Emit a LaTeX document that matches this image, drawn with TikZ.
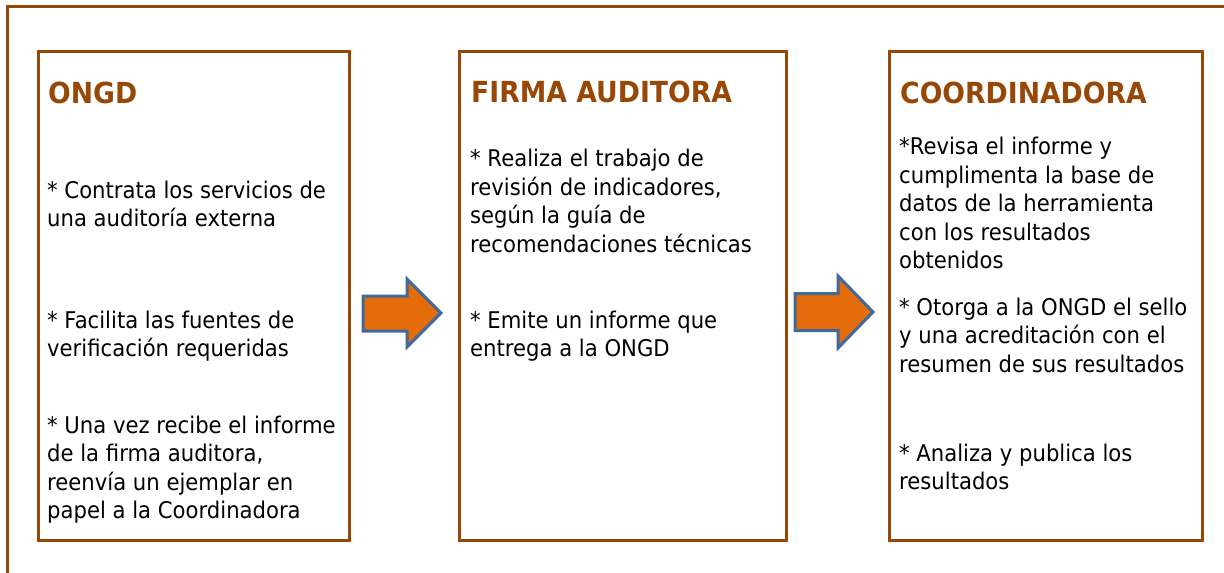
\documentclass[tikz,border=0pt]{standalone}
\usepackage{fontspec}
\setmainfont[FakeStretch=0.92]{DejaVu Sans}
\usetikzlibrary{positioning}

\definecolor{framebrown}{HTML}{984806}
\definecolor{arroworange}{HTML}{E46C0A}
\definecolor{arrowblue}{HTML}{41699B}

\tikzset{
  panel/.style={draw=framebrown, line width=3pt},
  heading/.style={font=\bfseries\fontsize{29}{31}\selectfont, text=framebrown, inner sep=0pt, anchor=base west},
  entry/.style={font=\fontsize{23}{28.6}\selectfont, align=left, inner sep=0pt, anchor=base west},
  blockarrow/.style={fill=arroworange, draw=arrowblue, line width=3pt, line join=miter}
}

\begin{document}
\begin{tikzpicture}[x=1pt,y=-1pt]
\useasboundingbox (0,0) rectangle (1224,573);
% Draw outer frame
\draw[framebrown, line width=3.3pt] (7.7,600) -- (7.7,6.7) -- (1240,6.7);
% Draw the three boxes
\draw[panel] (38.5,51.5) rectangle (349.5,540.5);
\draw[panel] (459.5,51.7) rectangle (786,540.5);
\draw[panel] (889.7,51.5) rectangle (1202.5,540.5);
% Box ONGD (entries sit on the baseline of their last line)
\node[heading] (ongd) at (48,103) {ONGD};
\node[entry] (ongd-1) at (47,226.6) {* Contrata los servicios de\\una auditoría externa};
\node[entry] (ongd-2) at (47,356.6) {* Facilita las fuentes de\\verificación requeridas};
\node[entry] (ongd-3) at (47,518.8) {* Una vez recibe el informe\\de la firma auditora,\\reenvía un ejemplar en\\papel a la Coordinadora};
% Box firma auditora
\node[heading] (firma) at (471,102) {FIRMA AUDITORA};
\node[entry] (firma-1) at (470,252.3) {* Realiza el trabajo de\\revisión de indicadores,\\según la guía de\\recomendaciones técnicas};
\node[entry] (firma-2) at (470,356.6) {* Emite un informe que\\entrega a la ONGD};
% Box coordinadora
\node[heading] (coord) at (900,103) {COORDINADORA};
\node[entry] (coord-1) at (899,268.8) {*Revisa el informe y\\cumplimenta la base de\\datos de la herramienta\\con los resultados\\obtenidos};
\node[entry] (coord-2) at (899,372.2) {* Otorga a la ONGD el sello\\y una acreditación con el\\resumen de sus resultados};
\node[entry] (coord-3) at (899,489.6) {* Analiza y publica los\\resultados};
% Draw arrows between boxes
\draw[blockarrow] (363,296) -- (407,296) -- (407,279) -- (441,313) -- (407,347) -- (407,331) -- (363,331) -- cycle;
\draw[blockarrow] (795,293.5) -- (838,293.5) -- (838,276) -- (873,312) -- (838,348) -- (838,330.5) -- (795,330.5) -- cycle;
\end{tikzpicture}
\end{document}
